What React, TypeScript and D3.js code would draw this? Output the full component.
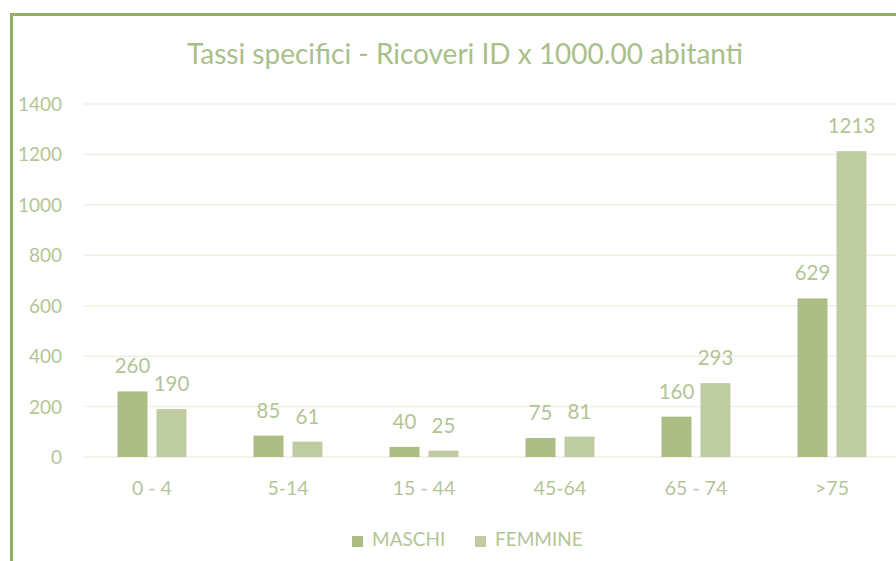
import React from "react";
import * as d3 from "d3";

const categories = ["0 - 4", "5-14", "15 - 44", "45-64", "65 - 74", ">75"];
const maschi = [260, 85, 40, 75, 160, 629];
const femmine = [190, 61, 25, 81, 293, 1213];
const seriesNames = ["MASCHI", "FEMMINE"];
const yTicks = [0, 200, 400, 600, 800, 1000, 1200, 1400];
const title = "Tassi specifici - Ricoveri ID x 1000.00 abitanti";

const W = 896;
const H = 561;
const colors = ["#abbd84", "#bfcca1"];
const textColor = "#b3c596";
const font = "Lato, 'Open Sans', sans-serif";

export default function App() {
  const x = d3.scaleBand<string>().domain(categories).range([84, 900]);
  const y = d3.scaleLinear().domain([0, 1400]).range([457, 104]);
  const barW = 30;
  const gap = 9;
  const series = [maschi, femmine];

  return (
    <svg width={W} height={H} style={{ position: "absolute", left: 0, top: 0 }}>
      <rect x={0} y={0} width={W} height={H} fill="#ffffff" />
      <rect x={11.5} y={14.5} width={W + 20} height={H + 20} fill="none" stroke="#93b062" strokeWidth={3} />
      <text x={465} y={64} textAnchor="middle" fontFamily={font} fontSize={28} fill="#a9c08a">
        {title}
      </text>
      {yTicks.map((t) => (
        <g key={t}>
          <line x1={84} x2={900} y1={y(t)} y2={y(t)} stroke="#edf1e4" strokeWidth={1.5} />
          <text x={62} y={y(t) + 7} textAnchor="end" fontFamily={font} fontSize={19} fill={textColor}>
            {t}
          </text>
        </g>
      ))}
      {categories.map((c, i) => {
        const cx = (x(c) as number) + x.bandwidth() / 2;
        return (
          <g key={c}>
            {series.map((s, j) => {
              const bx = j === 0 ? cx - gap / 2 - barW : cx + gap / 2;
              return (
                <g key={j}>
                  <rect x={bx} y={y(s[i])} width={barW} height={y(0) - y(s[i])} fill={colors[j]} />
                  <text
                    x={bx + barW / 2}
                    y={y(s[i]) - 18}
                    textAnchor="middle"
                    fontFamily={font}
                    fontSize={20.5}
                    fill={textColor}
                  >
                    {s[i]}
                  </text>
                </g>
              );
            })}
            <text x={cx} y={495} textAnchor="middle" fontFamily={font} fontSize={19.5} fill={textColor}>
              {c}
            </text>
          </g>
        );
      })}
      {seriesNames.map((n, j) => {
        const lx = j === 0 ? 352 : 475;
        return (
          <g key={n}>
            <rect x={lx} y={536} width={11} height={11} fill={colors[j]} />
            <text x={lx + 20} y={546} fontFamily={font} fontSize={19} fill={textColor}>
              {n}
            </text>
          </g>
        );
      })}
    </svg>
  );
}
